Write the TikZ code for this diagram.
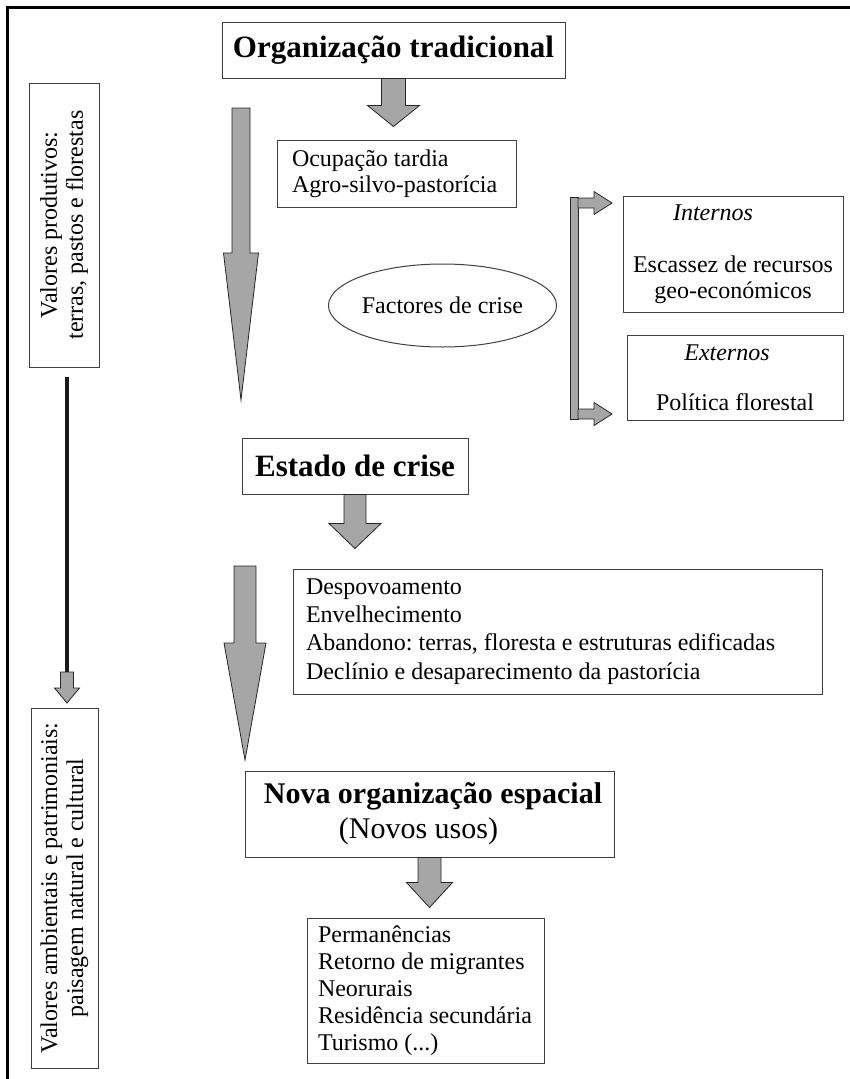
\documentclass[tikz,border=0pt]{standalone}
\usepackage{fontspec}
\setmainfont{Liberation Serif}
\frenchspacing
\usetikzlibrary{shapes.geometric,calc}
% downward block arrow: start, shaft length, head length, shaft half-width, head half-width
\newcommand\blockdown[5]{%
  \draw[blk] ($(#1)+(-#4,0)$) -- ++(2*#4,0) -- ++(0,#2) -- ++(#5-#4,0)
    -- ++(-#5,#3) -- ++(-#5,-#3) -- ++(#5-#4,0) -- cycle;}
% rightward block arrow: start, shaft length, head length, shaft half-width, head half-width
\newcommand\blockright[5]{%
  \draw[blk] ($(#1)+(0,-#4)$) -- ++(#2,0) -- ++(0,#4-#5)
    -- ++(#3,#5) -- ++(-#3,#5) -- ++(0,#4-#5) -- ++(-#2,0) -- cycle;}
\begin{document}
\begin{tikzpicture}[x=1pt,y=-1pt,
  box/.style={draw=black!75, line width=1pt, fill=white, inner sep=0pt,
    align=center, font=\fontsize{24}{26}\selectfont},
  listbox/.style={box, align=flush left, inner xsep=#1},
  headbox/.style={box, font=\fontsize{31}{34}\selectfont\bfseries},
  blk/.style={draw=black!85, line width=0.8pt, fill=black!35, line join=miter},
]
\useasboundingbox (0,0) rectangle (849,1079);
% open frame on the left and top
\draw[line width=3pt] (7,1085) -- (7,7) -- (855,7);

% main column
\node[headbox, minimum width=343, minimum height=56] (org) at (393.5,50) {Organização tradicional};
\node[listbox=15pt, text width=209pt, minimum height=67] (ocup) at (396.5,173.5)
  {\mbox{Ocupação tardia}\\\mbox{Agro-silvo-pastorícia}};
\node[box, ellipse, minimum width=205, minimum height=83] (fact) at (442.5,305.5) {Factores de crise};
\node[box, minimum width=220, minimum height=116] (int) at (733,254)
  {\hspace*{-40pt}\textit{Internos}\\[26pt]Escassez de recursos\\geo-económicos};
\node[box, minimum width=216, minimum height=85] (ext) at (735,377.5)
  {\hspace*{-16pt}\textit{Externos}\\[24pt]Política florestal};
\node[headbox, minimum width=226, minimum height=56] (est) at (355,466) {Estado de crise};
\node[listbox=13pt, text width=503pt, minimum height=125,
  font=\fontsize{24}{28.3}\selectfont] (desp) at (557.5,631.5)
  {\mbox{Despovoamento}\\\mbox{Envelhecimento}\\\mbox{Abandono: terras, floresta e estruturas edificadas}\\\mbox{Declínio e desaparecimento da pastorícia}};
\node[box, minimum width=369, minimum height=86, font=\fontsize{30}{35}\selectfont] (nova) at (429.5,814)
  {\hspace*{7pt}\textbf{Nova organização espacial}\\\hspace*{-22pt}(Novos usos)};
\node[listbox=11pt, text width=215pt, minimum height=145,
  font=\fontsize{24}{27}\selectfont] (perm) at (425.5,990.5)
  {\mbox{Permanências}\\\mbox{Retorno de migrantes}\\\mbox{Neorurais}\\\mbox{Residência secundária}\\\mbox{Turismo (...)}};

% side column
\node[box, rotate=90, minimum width=284, minimum height=70] (vprod) at (64,225)
  {Valores produtivos:\\terras, pastos e florestas};
\node[box, rotate=90, minimum width=360, minimum height=67] (vamb) at (64.5,888)
  {Valores ambientais e patrimoniais:\\paisagem natural e cultural};

% block arrows between the boxes
\blockdown{org.south}{27}{21}{12}{26}
\blockdown{est.south}{29}{25}{11}{26}
\blockdown{nova.south}{25}{25}{11.5}{23}

% long tapering arrows of the time line
\coordinate (t1) at (241,108);
\coordinate (t2) at (245,566);
\blockdown{t1}{145}{147}{9}{17.5}
\blockdown{t2}{77}{117}{11}{21}

% bracket splitting the crisis factors
\draw[blk] (570,197) rectangle (578,419);
\coordinate (b1) at (578,203);
\coordinate (b2) at (578,414);
\blockright{b1}{16}{18}{5}{11.5}
\blockright{b2}{16}{18}{5}{11.5}

% change of values on the left
\coordinate (ls) at (67,377);
\coordinate (le) at (67,672);
\draw[line width=4pt, black!90] (ls) -- (le);
\blockdown{le}{16}{15}{6.5}{12.5}
\end{tikzpicture}
\end{document}
